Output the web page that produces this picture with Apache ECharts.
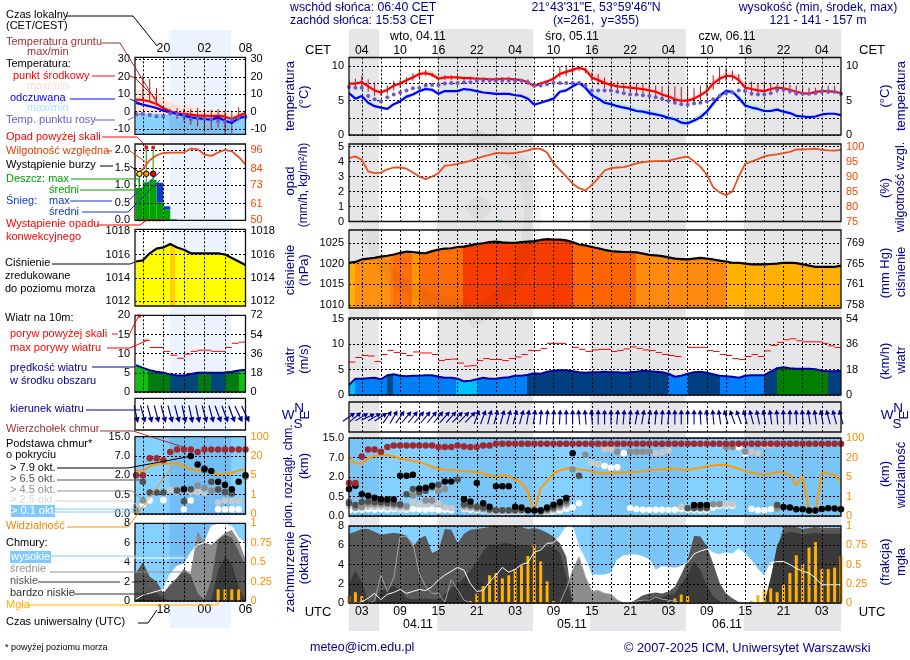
<!DOCTYPE html>
<html>
<head>
<meta charset="utf-8">
<title>meteogram</title>
<script src="https://cdn.jsdelivr.net/npm/echarts@6/dist/echarts.min.js"></script>
<style>
html,body{margin:0;padding:0;background:#fff}
#chart{width:910px;height:660px}
</style>
</head>
<body>
<div id="chart"></div>
<script>
// hours counted from 00 UTC on 04.11
var mainHours = [];
for (var i = 1; i <= 78; i++) mainHours.push(i);
var leftHours = [14,15,16,17,18,19,20,21,22,23,24,25,26,27,28,29,30];

var mainUtcTicks = [3,9,15,21,27,33,39,45,51,57,63,69,75];
var mainGridTicks = [3,6,9,12,15,18,21,24,27,30,33,36,39,42,45,48,51,54,57,60,63,66,69,72,75];
var leftUtcTicks = [18,24,30];
var leftGridTicks = [15,18,21,24,27];
var nightMain = [[1,5.7],[14.8,29.8],[38.7,53.7],[62.8,78]];
var nightLeft = [[18.9,27.9]];

// non linear height / visibility scale of the cloud base panel
var heightTicks = [0,0.5,2,7,15];
var visTicks = [0,1,5,20,100];
var mmHgTicks = [758,761,765,769];
var kmhTicksLeft = [0,18,36,54,72];
var kmhTicksMain = [0,18,36,54];

// main panel, temperature
var tempMid = [7.5,7.5,7.7,7.1,6.5,6.2,6.6,7.2,7.5,8,8.4,8.9,9,8.8,8.2,8.4,8.4,8.4,8.3,8.3,
8.2,8.2,8.1,8.1,8.2,8.2,8.1,8,7.7,7.1,7.5,7.8,8.2,8.9,9.2,9.5,9.8,9.5,8.4,8,
7.6,7.3,7.1,7,6.9,6.8,6.7,6.5,6.3,5.9,5.6,5.2,5,5,5.3,5.8,6.4,7.5,8.2,8.6,
8.6,8,6.9,6.7,6.5,6.4,6.7,6.9,6.8,6.6,6.3,6.1,6,6.3,6.4,6.4,6.3,6.1];
var tempMax = [7.7,7.7,7.9,7.3,6.7,6.4,6.8,7.4,7.7,8.2,8.7,9.2,9.4,9.3,8.7,8.7,8.7,8.6,8.5,8.5,
8.4,8.4,8.3,8.3,8.4,8.4,8.3,8.2,7.9,7.4,7.8,8.1,8.5,9.2,9.5,9.8,10,10,9.3,8.8,
8.3,7.9,7.7,7.5,7.4,7.3,7.2,7,6.8,6.4,6.1,5.7,5.4,5.4,5.7,6.1,6.8,7.9,8.7,9.1,
9.2,8.8,7.5,7.1,6.9,6.7,7,7.2,7.1,6.9,6.5,6.3,6.2,6.5,6.6,6.6,6.5,6.3];
var tempMin = [7.3,7.3,7.5,6.9,6.3,6,6.4,7,7.3,7.8,8.2,8.7,8.8,8.6,8,8.2,8.2,8.2,8.1,8.1,
8,8,7.9,7.9,8,8,7.9,7.8,7.5,6.9,7.3,7.6,8,8.7,9,9.3,9.6,9.3,8.2,7.8,
7.4,7.1,6.9,6.8,6.7,6.6,6.5,6.3,6.1,5.7,5.4,5,4.8,4.8,5.1,5.6,6.2,7.3,8,8.4,
8.4,7.8,6.7,6.5,6.3,6.2,6.5,6.7,6.6,6.4,6.1,5.9,5.8,6.1,6.2,6.2,6.1,5.9];
var feelMid = [6.1,5.3,5.7,4.7,4.2,4,3.8,4.5,4.9,5.6,5.9,6.4,6.7,6.6,6,6.4,6.4,6.4,6.7,6.6,
6.4,6.2,6.1,6,6,6,5.8,5.7,5.3,4.4,4.7,5,5.3,6.3,6.5,7.1,7.6,6.9,5.8,5.3,
4.7,4.5,4.2,4,3.8,3.5,3.4,3.2,3,2.8,2.5,2.3,1.8,1.7,2.1,2.6,3.4,4.6,5.7,6.4,
6.3,5.4,4.3,4,3.8,3.5,3.5,3.7,3.4,3.2,2.8,2.7,2.6,2.7,3,3.1,3.1,2.9];
var feelMax = [6.3,5.6,5.9,5,4.4,4.2,4,4.7,5.2,5.9,6.2,6.7,7,6.9,6.3,6.6,6.7,6.7,6.9,6.8,
6.6,6.4,6.3,6.2,6.2,6.2,6,5.9,5.5,4.6,4.9,5.3,5.6,6.6,6.8,7.4,7.9,7.4,6.4,5.9,
5.2,5,4.7,4.5,4.3,4,3.9,3.7,3.5,3.2,2.9,2.7,2.3,2.2,2.6,3.1,3.8,5,6.1,6.7,
6.7,6,4.9,4.5,4.3,4,3.9,4.1,3.8,3.5,3.1,2.9,2.8,2.9,3.2,3.3,3.3,3.1];
var feelMin = [5.9,5.1,5.4,4.5,4,3.8,3.6,4.2,4.7,5.3,5.6,6.1,6.4,6.3,5.8,6.1,6.2,6.2,6.4,6.3,
6.2,6,5.9,5.8,5.8,5.8,5.6,5.5,5.1,4.2,4.5,4.8,5,6,6.3,6.8,7.3,6.5,5.4,4.8,
4.3,4.1,3.8,3.6,3.4,3.1,3,2.8,2.6,2.4,2.1,1.9,1.4,1.3,1.7,2.2,3,4.2,5.3,6,
6,5,3.9,3.6,3.4,3.2,3.1,3.4,3.1,2.9,2.5,2.5,2.4,2.5,2.8,2.9,2.9,2.7];
var dewPoint = [7,6.9,6.9,5.7,5.2,4.9,5.5,5.9,6.2,6.5,6.8,6.9,7.2,7.3,7.3,7.5,7.6,7.6,7.7,7.7,
7.9,7.9,7.9,7.9,7.9,7.9,7.9,7.9,7.7,7.2,7.2,7.4,7.6,7.6,7.6,7.6,7.6,7.2,6.5,6.5,
6.5,6.5,6.3,6.1,5.9,5.9,5.8,5.7,5.5,5.3,5,4.7,4.5,4.4,4.6,4.7,4.9,5.2,5.7,6.1,
6.2,6.5,6.4,6,5.9,5.9,6.1,6.6,6.6,6.4,6.1,6,6,6.1,6.3,6.3,6.3,6];
var groundMax = [7.9,8.2,8.6,8.1,7.7,6.7,7.2,7.9,8,8.4,9,9.6,9.5,9,8.5,8.7,8.7,8.6,8.5,8.5,
8.4,8.4,8.3,8.4,8.4,8.5,8.3,8.2,8.1,7.3,7.7,8,8.6,10,10.2,10.3,10.1,9.8,9.1,8.9,
8.4,7.9,7.8,7.6,7.6,7.5,7.5,7.4,7.2,7.1,7,7.1,7,7,6.9,7.2,7.6,8.7,10,9.8,
9.4,8.9,7.5,7.8,7.5,7.5,7.6,7.4,7.4,7.3,7.2,6.9,6.9,6.9,7,7.2,7.2,6.9];
var groundMin = [7.2,7.1,7,6.3,5.7,5.7,6,6.5,6.9,7.4,7.9,8.3,8.6,8.4,7.9,8,8,8,8,8,
7.9,7.9,7.8,7.9,7.9,7.9,7.8,7.7,7.3,6.8,7.1,7.4,7.8,8.4,8.6,8.8,9.3,9,7.9,7.3,
6.8,6.4,6.3,6.3,6.2,6.1,6,5.8,5.5,5.1,4.8,4.5,4.3,4,4.5,5,5.6,6.6,7.5,7.8,
7.9,7.4,6.1,5.8,5.8,5.8,5.9,6.1,6.2,6,5.7,5.8,5.8,5.9,6,6,6,5.8];

// main panel, humidity and rain
var humidity = [96.1,96.7,95.6,91.7,91.1,91.3,92.4,93,93,92.6,91.3,90,89.1,90,91.1,93.6,93.8,94.2,94.7,95.2,
96,96.7,97.2,97.8,97.8,97.7,97.9,98.2,98.7,99.4,99.2,98,94.4,92.2,90,87.6,86.1,85.3,87.2,89.4,
92,92.8,93,93.1,93.7,94.4,94.8,95,95.1,95.2,95.3,95.8,96.3,96.7,95,93.3,90.6,86.4,84.7,83.8,
85,90,94.2,95,95.8,96.7,97.1,97.4,97.8,98.2,99,99,99.1,99.3,98.9,98.7,98.6,98.9];
var rainHours = [23,24];
var rainMain = [0.03,0.06];

// main panel, pressure
var pressure = [1020.2,1020.4,1021,1021.2,1021.4,1021.7,1021.9,1022.2,1022.6,1022.9,1022.8,1022.6,1022.5,1023,1023.4,1023.6,1023.7,1024,1024.1,1024.4,
1024.7,1024.9,1025.2,1025.3,1025.1,1025,1025,1025.2,1025.3,1025.4,1025.7,1025.9,1025.8,1025.8,1025.6,1025.2,1024.6,1024.4,1024,1023.7,
1023.3,1023,1022.9,1022.8,1022.8,1022.7,1022.4,1022.1,1022,1021.8,1021.5,1021.2,1021.1,1021,1021.2,1021.4,1021.2,1021,1020.7,1020.5,
1020.2,1020.2,1020,1019.8,1019.8,1019.8,1019.9,1020,1020.2,1020.2,1020.1,1019.8,1019.5,1019.2,1019.2,1019.2,1019.2,1019.5];

// main panel, wind
var windMean = [2,3.2,3.2,3.3,3.4,3.1,3.9,4.1,3.8,3.7,3.8,3.8,3.9,3.9,3.6,3.4,3.4,3.2,2.7,2.8,
3.1,3.4,3.2,3.2,3.4,3.5,3.8,3.8,4,4.3,4.2,4.6,4.8,4.9,4.9,4.7,4.5,4.4,4.5,4.5,
4.6,4.5,4.5,4.4,4.5,4.6,4.8,4.7,4.6,4.5,4.2,3.6,3.8,4.2,4.5,4.6,4.4,4.1,3.8,3.7,
3.6,3.4,3.8,3.9,3.9,3.9,4.6,5.3,5.5,5.3,5.2,5.2,5.2,5.1,4.8,4.7,4.7,4.8];
var windGust = [6.5,7.4,7.8,7.7,6.6,8,8.8,8.4,8.2,7.8,8.5,8.3,8.3,8,6.8,7,7.1,6.3,5.7,5.8,
6.8,7.2,7,7,6.8,7.2,7.5,8,8.8,8.8,9.2,10.2,10.2,10.2,null,9.4,9,8.6,8.9,9,
9,8.6,8.8,9.1,9.5,9.2,8.9,8.8,8.4,8,7.8,7.6,null,9.4,9.4,9.4,8.8,8.6,8,7.8,
7.2,7,7.6,8,7.6,8.7,9.8,10.4,10.9,11.1,10.7,10.5,10.5,10.5,10.2,9.7,9.4,null];
var windDir = [55,50,60,65,60,58,35,30,35,40,40,40,40,40,40,42,42,45,45,45,
20,20,15,15,15,15,15,15,10,8,5,5,5,3,0,0,-5,-5,-5,0,
0,0,5,5,5,10,10,8,5,5,5,0,0,0,0,-3,-5,-5,-8,-15,
-20,-20,-15,-15,-12,-10,-8,-5,-3,0,-2,-5,-8,-8,-10,-15,-15,-15];

// main panel, cloud tops and cloud bases (km) per cover class
var cloudTop = [1.53,1.53,7.4,10.3,10.3,9.4,11.3,11.9,11.9,11.9,11.9,11.9,11.9,11.9,11.3,11.3,11.3,11.9,11.5,11.3,
11.3,11.9,11.9,12.6,12.6,12.6,12.6,12.6,12.6,12.6,12.6,12.6,12.6,12.6,12.6,12.6,12.6,12.6,12.6,12.6,
12.6,12.6,12.6,12.6,12.6,12.6,12.6,12.6,12.6,12.6,12.6,12.6,12.6,12.6,12.6,12.6,12.6,12.6,12.6,12.6,
12.6,12.6,12.6,12.6,12.6,12.6,12.6,12.6,12.6,12.6,12.6,12.6,12.6,12.6,12.6,12.6,12.6,12.6];
var baseAbove79 = [1.07,1.33,.68,.55,.47,.43,.42,.43,2.35,2.35,2.6,1.12,1.17,1.33,null,1.66,1.66,null,.43,.37,
1.53,.33,.24,1.28,1.28,1.28,.24,.22,.15,.14,.15,.22,.29,.36,.46,8.7,null,null,null,null,
null,null,null,null,null,null,null,null,null,null,null,null,null,null,.28,.28,.28,null,null,null,
null,null,null,null,null,null,null,null,.23,.22,.17,.17,.14,.14,.18,.2,.19,.17];
var baseAbove65 = [.33,.28,.36,.37,.36,.35,.34,.33,.3,.68,1.07,.85,.95,1.22,1.4,null,null,1.8,.3,.28,
.24,.22,.17,.15,.15,.15,.15,.15,null,null,.13,.18,.22,.3,.4,null,2.3,null,null,null,
null,null,null,null,null,null,null,null,null,null,null,null,null,.2,.2,.2,.2,null,null,null,
null,null,null,null,null,null,null,.28,null,null,null,null,null,null,null,null,null,null];
var baseAbove45 = [.37,.22,.24,.31,.3,.3,.3,.28,.26,.25,.6,.7,.4,.4,.9,1.07,null,null,.26,.24,
.2,.18,.15,.14,.14,.14,.14,null,null,null,.11,.14,.18,.25,.33,3.9,null,8.1,null,null,
null,null,9.4,null,9.4,9.4,9.4,9.4,null,null,null,null,null,null,null,null,null,.3,.3,11.3,
11.3,null,9.4,null,null,null,null,.2,null,null,null,null,null,null,null,null,null,null];
var baseAbove25 = [.26,.2,.2,.24,.24,.24,.22,.22,.2,.2,.35,.3,.3,.33,.33,.22,.2,null,.2,.2,
.17,.15,.13,.12,.12,.12,.12,.12,null,null,.1,.12,.14,.2,.27,null,null,null,5.7,5.3,
10.5,10.5,null,null,null,null,null,null,8.7,9.2,10,null,.24,null,null,null,null,null,null,.3,
.3,null,null,9.4,8.7,11.9,11.9,.2,null,null,null,null,null,null,null,null,null,null];
var baseAbove01 = [.14,.16,.16,.17,.16,.17,.16,.17,.17,.16,.17,.17,.16,.17,.15,.16,.15,null,.17,.16,
.15,.14,.12,.11,.11,.11,.11,.11,null,null,.1,.1,.11,.14,.18,.22,.33,null,5.7,5.3,
4.8,4.4,4.5,8.7,.2,.17,.16,.16,.16,.16,.16,.16,.17,.16,.16,.15,.15,.22,.26,.27,
.26,11.3,8.5,.18,.15,.15,.17,null,null,null,null,null,null,null,null,null,null,null];
var visibility = [20,15.3,15.3,19.2,26.6,30.5,29.2,25.2,19.2,18.2,17.4,16.8,14.7,12.9,11.3,10.5,10.3,9.7,9.5,9.2,
8.7,7.6,6.1,5.3,6.3,5.8,4.4,3.8,2,.17,2.7,4.1,7.6,10,11.3,12.6,10.8,10.3,9.2,8.2,
7.6,7.6,8.4,8.4,8.7,8.9,9.5,10.3,10.5,11,11.6,11.3,10.8,10.3,11.3,12.1,13.2,13.9,14.2,14.2,
12.9,11.3,9.5,8.2,7.4,7.1,7.4,8.9,8.2,6.8,3.3,5.5,.28,.17,8.2,7.6,6.8,4];

// main panel, cloud cover (octas) and fog fraction
var cloudHigh = [0,0,.1,.5,1,.35,.9,1.1,1.4,1,1.2,1.4,1.3,1.7,2.4,2.9,3.3,3.7,3.4,2,
1.2,1.3,2.2,2.9,3.7,3.2,3.5,4,4.2,5.3,5.5,6.2,6.25,6.9,7.9,7.9,5.8,4.5,2.9,2.9,
2.9,3.1,4.5,4.9,5,5,4.8,4.5,3.4,3.8,3.7,3.6,3.8,4.2,5.1,5.4,5.6,5.2,5,5.2,
5.1,5.6,5.1,4.4,3.5,2.8,4.2,4.3,4.3,4,3.6,3.3,3.1,2.6,1.9,1.9,1.9,1.9];
var cloudMid = [0,0,0,0,.2,2.9,1.2,2.6,6.9,6.9,6.2,3.1,1.7,1,1,.1,2.4,1.4,.3,0,
0,0,0,0,0,0,0,0,0,0,0,0,0,0,1.5,3.4,4.8,2.7,1.2,1.3,
1,.9,.3,0,0,.2,.3,.3,.6,.4,.3,.2,0,0,0,0,0,0,0,0,
0,0,0,0,0,0,0,0,0,0,0,0,0,0,0,0,0,0];
var cloudLow = [7.2,7.4,7.7,7.7,7.4,7.1,7.2,7.3,7.2,7,5.8,6.7,7,5.2,5.5,7.7,7.6,6.2,7.2,7.6,
7.7,7.8,7.9,8,7.9,7.9,7.9,7.9,7.7,7.8,7.6,7.3,6.9,6.2,4.8,0,0,0,0,0,
0,0,0,0,0,.4,.8,1,1.1,1,1.2,1.7,3,4.5,7,6.9,5.9,4.1,2.1,1,
.5,.1,0,0,0,0,2.7,5.6,7.9,8,7.9,7.7,7.8,7.9,7.8,7.8,7.8,7.8];
var cloudVeryLow = [2,3.4,2.2,.1,.3,1.2,1.5,1.8,1.4,.5,.4,.4,.5,.4,.4,1,1.5,2,2.6,3.4,
4.2,5.4,6.1,6,6.2,6.2,6,6,6,5.7,5.6,5.9,5.8,5.2,2.7,0,0,0,0,0,
0,0,0,0,0,.3,.4,.5,.6,.6,.8,1,2,2.9,4.3,3.4,1.8,.7,.2,0,
0,0,0,0,0,0,2.4,6,7.2,7.4,7.3,7.1,7.2,7.3,7.2,7.2,7.2,7.2];
var fogHours = [1,2,3,20,21,22,23,24,25,26,27,28,29,30,31,32,33,51,52,53,54,64,65,66,67,68,69,70,71,72,73,74,75,76,77,78];
var fogFraction = [.09,.14,.09,.025,.12,.22,.36,.39,.32,.36,.44,.49,.61,.76,.54,.28,.025,.02,.06,.11,.09,.03,.1,.18,.19,.14,.24,.39,.62,.51,.72,.79,.44,.44,.46,.61];

// left panel, one day zoomed in
var leftTempMid = [6.9,6.7,5.8,4.4,2.1,.2,-1,-1.3,-1.7,-2.3,-2.3,-2.5,-2.3,-2.9,-4.2,-2.3,-.8];
var leftTempMax = [13,12,11,10,7.5,5,4,3.5,3,2,1.5,1,1,.2,-2.3,-.4,1];
var leftTempMin = [-1,-1,-1,-1.5,-1.5,-1.5,-2,-2.3,-2.5,-3,-3,-3.5,-3.5,-4,-5,-3.5,-2];
var leftFeelMid = [5,4,3.1,2.1,.6,-.4,-1.3,-2.3,-3.3,-3.7,-4.2,-4.6,-3.3,-5.2,-6.5,-3.7,-2.7];
var leftFeelMax = [-1,-1,-1,-1,-1.3,-1.5,-1.5,-2,-2,-2.5,-2.7,-3,-2.8,-3.5,-5,-2.8,-1.5];
var leftFeelMin = [-13,-13,-13,-13,-13,-13,-13,-13,-13,-13,-13,-13,-13,-13,-13,-13,-13];
var leftDew = [-1.3,-1.3,-1.9,-2.7,-2.7,-1,-1.3,-2.3,-4.2,-3.8,-4.2,-4.6,-5.2,-5.8,-4.8,-3.7,-3];
var leftGroundMax = [null,20.8,18.8,13.6,null,1.5,2.1,1.5,1.5,2.1,1.5,1,1.5,0,.6,2.5,1];
var leftGroundMin = [null,6,5.8,3.5,null,-2.3,-4.2,-5.2,-7.5,-8.6,-10,-10.5,-9,-12.8,-12.5,-5.2,-1];
var leftHumidity = [79.4,83.8,89.4,92.7,94.2,94.5,94.5,94.5,97.1,96.7,93.1,92.3,94.5,96.2,95.3,91.6,86.7];
var leftRain = [.92,1.09,1.16,.5,.3,.03];
var leftSnowTop = [null,null,null,1.07,.4,null];
var leftRainHours = [14,15,16,17,18,19];
var stormHours = [14.5,15.5,16.5];
var stormLevel = [1.33,1.33,1.33];
var overflowHours = [15.5,16.5];
var overflowLevel = [2.08,2.08];
var convectiveHours = [14.5,15,15.5,16,16.5,17,17.5,18];
var convectiveLevel = [0,0,0,0,0,0,0,0];
var leftPressure = [1015.4,1015.5,1016.1,1016.5,1016.6,1016.9,1016.6,1016.4,1016.1,1016.1,1016.1,1016.1,1016.1,1016,1015.7,1015.4,1015.1];
var leftWindMean = [7,6.3,5.7,5.3,5,4.6,4.3,4.3,4.7,5,5,5,5,5.1,5.3,5.6,5.8];
var leftGust = [null,13.5,11.6,11.6,10.6,9.6,8.8,9.9,10.6,10.9,10.9,10.6,10.6,11.6,12.7,13,null];
var gustOverHours = [14.5];
var gustOverLevel = [19.8];
var leftWindDir = [168,165,165,165,165,165,165,168,168,168,165,165,160,160,160,155,155];
var leftTop = [2,2,6.4,6.4,5.9,8.7,9.7,9.7,9.7,8.7,9.7,9.7,9.7,9.7,9.7,9.7,9.7];
var leftAbove79 = [null,null,null,null,null,null,null,.93,7,4.8,3.7,3.1,1.5,1.25,.92,1.5,2];
var leftAbove65 = [null,1.5,.67,.67,.67,null,.8,.33,.92,null,3.4,1.5,.9,.7,.6,null,null];
var leftAbove45 = [.1,.35,null,null,null,null,.87,null,null,1.2,1,.8,.9,.65,.6,null,1.9];
var leftAbove25 = [.18,null,null,null,null,.87,.7,null,.7,.7,.67,null,.3,.35,.33,.35,null];
var leftAbove01 = [null,.25,.35,null,.36,null,null,.12,.35,.7,null,null,.12,.12,.12,.12,null];
var leftVisibility = [8.9,8.4,12.1,13.7,14.2,14.2,14.2,12.1,9.5,8.4,8.4,7.6,5.8,6,6.8,8.9,8.9];
var leftCloudHigh = [.2,.6,.8,1,1.2,2.8,3.6,3.8,5,5.8,6,7.7,7.9,7.9,7.7,6.5,6];
var leftCloudMid = [0,0,0,0,0,0,0,.3,3,7.2,6,5.8,6.4,7,7.3,6.2,4.3];
var leftCloudLow = [2.9,4,2.5,2,.8,1.7,2.4,3.3,2.7,.8,.1,2.2,6.3,6.8,6.5,5.1,3.6];
var leftCloudVeryLow = [.1,.65,1,.8,.3,0,0,0,0,0,0,0,3.2,4.6,3.8,1.5,0];
var leftFogHours = [26,27,28,29];
var leftFog = [.15,.15,.15,.15];

var FONT = '"Liberation Sans", Arial, sans-serif';
var NAVY = '#000090';
var RHCOL = '#ff4500';
var VISCOL = '#ff8c00';

var grids = [], xAxes = [], yAxes = [], series = [];

function pad(n){ return (n < 10 ? '0' : '') + n; }

function heightPos(km, ticks){
    if (km == null) return null;
    for (var i = 0; i < ticks.length - 1; i++) {
        if (km <= ticks[i+1]) return i + (km - ticks[i]) / (ticks[i+1] - ticks[i]);
    }
    return ticks.length - 1;
}
function zip(hrs, vals){
    var out = [];
    hrs.forEach(function(h, i){ if (vals[i] != null) out.push([h, vals[i]]); });
    return out;
}
function yAxisOpt(gi, pos, c, color){
    return {
        type:'value', gridIndex:gi, position:pos, min:c.min, max:c.max, z:5,
        axisLine:{show:false},
        axisTick:{show:false, customValues:c.grid || c.ticks},
        axisLabel:{show:true, customValues:c.ticks, formatter:c.fmt, color:color || '#000',
            fontFamily:FONT, fontSize:11, margin:5},
        splitLine:{show:pos === 'left' && c.lines !== false, lineStyle:{color:'#000', type:[2,2], width:1}}
    };
}
function addPanel(c){
    var gi = grids.length;
    grids.push({left:c.left, width:c.width, top:c.top, height:c.height, show:true,
        borderWidth:0, backgroundColor:c.bg || 'transparent'});
    xAxes.push({
        type:'value', gridIndex:gi, min:c.xMin, max:c.xMax, position:c.xPos || 'bottom', z:5,
        axisLine:{show:false},
        axisTick:{show:false, customValues:c.xGrid},
        axisLabel:{show:!!c.xLabels, customValues:c.xLabels || [], formatter:c.xFmt, color:'#000',
            fontFamily:FONT, fontSize:12.3, margin:c.xMargin == null ? 3 : c.xMargin},
        splitLine:{show:true, lineStyle:{color:'#000', type:[2,2], width:1}}
    });
    var yi = yAxes.length;
    yAxes.push(yAxisOpt(gi, 'left', c.y));
    yAxes.push(yAxisOpt(gi, 'right', c.r, c.r.color));
    var p = {x:gi, y:yi, r:yi + 1, c:c};
    // frame on top of the fills
    series.push({type:'custom', xAxisIndex:gi, yAxisIndex:yi, z:7, silent:true, data:[[c.xMin, c.y.min]],
        renderItem:function(params, api){
            var a = api.coord([c.xMin, c.y.max]), b = api.coord([c.xMax, c.y.min]);
            return {type:'rect', shape:{x:a[0], y:a[1], width:b[0]-a[0], height:b[1]-a[1]},
                style:{fill:'none', stroke:'#111', lineWidth:1.3}};
        }});
    return p;
}
function lineS(p, hrs, vals, color, width, right){
    series.push({type:'line', xAxisIndex:p.x, yAxisIndex:right ? p.r : p.y, data:zip(hrs, vals),
        symbol:'none', silent:true, z:6, lineStyle:{color:color, width:width}});
}
function areaS(p, hrs, vals, fill, z){
    series.push({type:'line', xAxisIndex:p.x, yAxisIndex:p.y, data:zip(hrs, vals), symbol:'none', silent:true,
        z:z || 2, lineStyle:{width:0}, areaStyle:{color:fill, opacity:1, origin:'start'}});
}
function stepGradient(hrs, bands){
    var from = hrs[0], to = hrs[hrs.length-1], stops = [], prev = 0;
    bands.forEach(function(b){
        var end = Math.min(1, (b[0] - from) / (to - from));
        stops.push({offset:prev, color:b[1]}, {offset:end, color:b[1]});
        prev = end;
    });
    return new echarts.graphic.LinearGradient(0, 0, 1, 0, stops);
}
function bandS(p, hrs, lo, hi, fill){
    series.push({type:'custom', xAxisIndex:p.x, yAxisIndex:p.y, z:2, silent:true, data:[[hrs[0], lo[0]]], clip:true,
        renderItem:function(params, api){
            var pts = [];
            hrs.forEach(function(h, i){ pts.push(api.coord([h, hi[i]])); });
            for (var i = hrs.length - 1; i >= 0; i--) pts.push(api.coord([hrs[i], lo[i]]));
            return {type:'polygon', shape:{points:pts}, style:{fill:fill}};
        }});
}
function ticksS(p, hrs, lo, hi, color){
    var d = [];
    hrs.forEach(function(h, i){ if (lo[i] != null) d.push([h, lo[i], hi[i]]); });
    series.push({type:'custom', xAxisIndex:p.x, yAxisIndex:p.y, z:4, silent:true, data:d, clip:true,
        renderItem:function(params, api){
            var a = api.coord([api.value(0), api.value(1)]), b = api.coord([api.value(0), api.value(2)]);
            return {type:'line', shape:{x1:a[0], y1:a[1], x2:b[0], y2:b[1]}, style:{stroke:color, lineWidth:1}};
        }});
}
function gustS(p, hrs, vals, color){
    series.push({type:'custom', xAxisIndex:p.x, yAxisIndex:p.y, z:6, silent:true, data:zip(hrs, vals), clip:true,
        renderItem:function(params, api){
            var a = api.coord([api.value(0), api.value(1)]), b = api.coord([api.value(0)+1, api.value(1)]);
            return {type:'line', shape:{x1:a[0], y1:a[1], x2:b[0], y2:b[1]}, style:{stroke:color, lineWidth:1}};
        }});
}
function rectS(p, rows, fill, z){
    // rows: [x0, x1, y0, y1]
    series.push({type:'custom', xAxisIndex:p.x, yAxisIndex:p.y, z:z, silent:true, data:rows, clip:true,
        renderItem:function(params, api){
            var a = api.coord([api.value(0), api.value(3)]), b = api.coord([api.value(1), api.value(2)]);
            return {type:'rect', shape:{x:a[0], y:a[1], width:b[0]-a[0], height:b[1]-a[1]}, style:{fill:fill}};
        }});
}
function dotS(p, hrs, vals, color, size, right, symbol, border){
    series.push({type:'scatter', xAxisIndex:p.x, yAxisIndex:right ? p.r : p.y, data:zip(hrs, vals), z:6, silent:true,
        symbol:symbol || 'circle', symbolSize:size, clip:false,
        itemStyle:{color:color, opacity:1, borderColor:border || color, borderWidth:border ? 1 : 0}});
}
function fogS(p, hrs, vals){
    series.push({type:'bar', xAxisIndex:p.x, yAxisIndex:p.r, data:zip(hrs, vals), barWidth:3, z:3, silent:true,
        itemStyle:{color:'#ffb000'}});
}
var ARROW = 'path://M5 0 L10 7 L6 7 L6 22 L4 22 L4 7 L0 7 Z';
function arrowS(p, hrs, dirs, size){
    series.push({type:'scatter', xAxisIndex:p.x, yAxisIndex:p.y, z:6, silent:true, clip:false,
        data:hrs.map(function(h, i){ return {value:[h, 0.5], symbolRotate:-dirs[i]}; }),
        symbol:ARROW, symbolSize:size, itemStyle:{color:NAVY, opacity:1}});
}
function numFmt(v){ return String(v); }
function listFmt(from, to){ return function(v){ var i = from.indexOf(v); return i < 0 ? '' : String(to[i]); }; }
function fixed1(v){ return v.toFixed(1); }

// night bands behind the main panels, day band behind the left column
function bandGrid(left, width, top, height, xMin, xMax, rows, fill){
    var gi = grids.length;
    grids.push({left:left, width:width, top:top, height:height, show:false});
    xAxes.push({type:'value', gridIndex:gi, min:xMin, max:xMax, show:false});
    var yi = yAxes.length;
    yAxes.push({type:'value', gridIndex:gi, min:0, max:1, show:false});
    series.push({type:'custom', xAxisIndex:gi, yAxisIndex:yi, z:-1, silent:true,
        data:rows.map(function(r){ return [r[0], r[1]]; }),
        renderItem:function(params, api){
            var a = api.coord([api.value(0), 1]), b = api.coord([api.value(1), 0]);
            return {type:'rect', shape:{x:a[0], y:a[1], width:b[0]-a[0], height:b[1]-a[1]}, style:{fill:fill}};
        }});
}
var ML = 349, MW = 492, LL = 135, LW = 110.5;
bandGrid(ML, MW, 29, 602, 1, 78, nightMain, '#e6e6e8');
bandGrid(LL, LW, 30, 598, 13.85, 30, nightLeft, '#edf3fe');

function mainPanel(top, height, y, r, extra){
    var c = {left:ML, width:MW, top:top, height:height, xMin:1, xMax:78, xGrid:mainGridTicks, y:y, r:r};
    for (var k in extra) c[k] = extra[k];
    return addPanel(c);
}
function leftPanel(top, height, y, r, extra){
    var c = {left:LL, width:LW, top:top, height:height, xMin:13.85, xMax:30, xGrid:leftGridTicks, y:y, r:r};
    for (var k in extra) c[k] = extra[k];
    return addPanel(c);
}

// ---- main column ----
var pTemp = mainPanel(57.5, 77.5,
    {min:0, max:11.3, ticks:[0,5,10], grid:[0,2.5,5,7.5,10], fmt:numFmt},
    {min:0, max:11.3, ticks:[0,5,10], fmt:numFmt},
    {xPos:'top', xMargin:1, xLabels:mainUtcTicks, xFmt:function(h){ return pad((h + 1) % 24); }});
bandS(pTemp, mainHours, tempMin, tempMax, '#ffd8d8');
bandS(pTemp, mainHours, feelMin, feelMax, '#bfe6ff');
ticksS(pTemp, mainHours, groundMin, groundMax, '#a02020');
dotS(pTemp, mainHours, dewPoint, '#6a5acd', 4);
lineS(pTemp, mainHours, tempMid, '#ff0000', 2.2);
lineS(pTemp, mainHours, feelMid, '#0000ff', 2.2);

var pRain = mainPanel(144, 77.5,
    {min:0, max:5.17, ticks:[0,1,2,3,4,5], fmt:numFmt},
    {min:75, max:100.83, ticks:[75,80,85,90,95,100], fmt:numFmt, color:RHCOL});
rectS(pRain, rainHours.map(function(h, i){ return [h, h+1, 0, rainMain[i]]; }), '#00a000', 3);
lineS(pRain, mainHours, humidity, '#e8501e', 1.8, true);

var pPress = mainPanel(230, 78,
    {min:1009.3, max:1028.1, ticks:[1010,1015,1020,1025], fmt:numFmt},
    {min:1009.3, max:1028.1, ticks:[1010,1015,1020,1025], fmt:listFmt([1010,1015,1020,1025], mmHgTicks)});
areaS(pPress, mainHours, pressure, stepGradient(mainHours, [[1.9,'#ffb000'],[7.4,'#ff9010'],[7.9,'#ff8010'],[10.8,'#ff6e08'],[12,'#ff9500'],[18.9,'#ff6c08'],[36.1,'#f83c00'],[45.9,'#ff6400'],[60,'#ff8a10'],[78,'#ffb000']]));
lineS(pPress, mainHours, pressure, '#000', 2.2);

var pWind = mainPanel(318, 77,
    {min:0, max:15.2, ticks:[0,5,10,15], fmt:numFmt},
    {min:0, max:54.7, ticks:kmhTicksMain, fmt:numFmt});
areaS(pWind, mainHours, windMean, stepGradient(mainHours, [[1.9,'#00c0ff'],[6.9,'#0080f4'],[7.9,'#004a8c'],[17.8,'#0080f4'],[21,'#00c0ff'],[28.9,'#0080f4'],[51,'#004080'],[54,'#0080ff'],[59,'#004080'],[66,'#0080ff'],[68,'#004080'],[76,'#008000'],[78,'#004080']]));
lineS(pWind, mainHours, windMean, '#0000a0', 2);
gustS(pWind, mainHours, windGust, '#ff0000');

var pDir = mainPanel(402, 30,
    {min:0, max:1, ticks:[], lines:false, fmt:numFmt},
    {min:0, max:1, ticks:[], fmt:numFmt});
arrowS(pDir, mainHours, windDir, [5.5,15]);

var BLUEBG = 'rgba(31,169,255,0.55)';
var pBase = mainPanel(438, 78,
    {min:0, max:4, ticks:[0,1,2,3,4], fmt:function(v){ return heightTicks[v].toFixed(1); }},
    {min:0, max:4, ticks:[0,1,2,3,4], fmt:function(v){ return String(visTicks[v]); }, color:VISCOL},
    {bg:BLUEBG});
function posOf(vals){ return vals.map(function(v){ return heightPos(v, heightTicks); }); }
dotS(pBase, mainHours, posOf(baseAbove01), '#ffffff', 6.5);
dotS(pBase, mainHours, posOf(baseAbove25), '#c8c8c8', 6.5);
dotS(pBase, mainHours, posOf(baseAbove45), '#8c8c8c', 6.5);
dotS(pBase, mainHours, posOf(baseAbove65), '#505050', 6.5);
dotS(pBase, mainHours, posOf(baseAbove79), '#000000', 6.5);
dotS(pBase, mainHours, posOf(cloudTop), '#a02830', 6.5);
lineS(pBase, mainHours, visibility.map(function(v){ return heightPos(v, visTicks); }), '#ff9900', 2, true);

var pCloud = mainPanel(526, 77,
    {min:0, max:8, ticks:[0,2,4,6,8], fmt:numFmt},
    {min:0, max:1, ticks:[0,.25,.5,.75,1], fmt:numFmt, color:VISCOL},
    {bg:BLUEBG, xLabels:mainUtcTicks, xFmt:function(h){ return pad(h % 24); }});
areaS(pCloud, mainHours, cloudHigh, '#ffffff', 2);
areaS(pCloud, mainHours, cloudMid, '#8c8c8c', 2);
areaS(pCloud, mainHours, cloudLow, '#585858', 2);
areaS(pCloud, mainHours, cloudVeryLow, '#3a3a3a', 2);
fogS(pCloud, fogHours, fogFraction);
lineS(pCloud, mainHours, cloudMid, '#a0a0a0', 1);
lineS(pCloud, mainHours, cloudHigh, '#ffffff', 1);

// ---- left column ----
var lTemp = leftPanel(57.3, 77,
    {min:-13, max:31.2, ticks:[-10,0,10,20,30], fmt:numFmt},
    {min:-13, max:31.2, ticks:[-10,0,10,20,30], fmt:numFmt},
    {xPos:'top', xMargin:3, xLabels:leftUtcTicks, xFmt:function(h){ return pad((h + 2) % 24); }});
bandS(lTemp, leftHours, leftTempMin, leftTempMax, '#ffe2d6');
bandS(lTemp, leftHours, leftFeelMin, leftFeelMax, '#88d2ff');
rectS(lTemp, [[nightLeft[0][0], nightLeft[0][1], -13, -3]], 'rgba(0,40,120,0.1)', 3);
ticksS(lTemp, leftHours, leftGroundMin, leftGroundMax, '#a02020');
dotS(lTemp, leftHours, leftDew, '#6a5acd', 3.5, false, 'rect');
lineS(lTemp, leftHours, leftTempMid, '#ff0000', 2.2);
lineS(lTemp, leftHours, leftFeelMid, '#0000ff', 2.2);

var lRain = leftPanel(144, 76.3,
    {min:0, max:2.18, ticks:[0,.5,1,1.5,2], fmt:fixed1},
    {min:50, max:100.1, ticks:[50,61,73,84,96], fmt:numFmt, color:RHCOL});
rectS(lRain, leftRainHours.map(function(h, i){ return leftSnowTop[i] == null ? null : [h, h+1, leftRain[i], leftSnowTop[i]]; }).filter(Boolean), '#1038c8', 3);
rectS(lRain, leftRainHours.map(function(h, i){ return [h, h+1, 0, leftRain[i]]; }), '#00a400', 3);
ticksS(lRain, overflowHours, leftRain.slice(1,3), overflowLevel, '#00a000');
ticksS(lRain, [14.5], [.9], [1.3], '#00a000');
dotS(lRain, overflowHours, overflowLevel, '#ff0000', 3.5, false, 'rect');
dotS(lRain, [stormHours[0]], [stormLevel[0]], '#ffe000', 5.5, false, 'circle', '#000');
dotS(lRain, [stormHours[1]], [stormLevel[1]], '#ff9000', 5.5, false, 'circle', '#000');
dotS(lRain, [stormHours[2]], [stormLevel[2]], '#ff0000', 5.5, false, 'circle', '#000');
dotS(lRain, convectiveHours, convectiveLevel, '#ff0000', 2.5);
lineS(lRain, leftHours, leftHumidity, '#e8501e', 1.8, true);

var lPress = leftPanel(229.3, 76.7,
    {min:1011.6, max:1018.15, ticks:[1012,1014,1016,1018], fmt:numFmt},
    {min:1011.6, max:1018.15, ticks:[1012,1014,1016,1018], fmt:numFmt});
areaS(lPress, leftHours, leftPressure, stepGradient(leftHours, [[18.9,'#ffff00'],[19.7,'#ffd000'],[30,'#ffff00']]));
lineS(lPress, leftHours, leftPressure, '#000', 2.2);

var lWind = leftPanel(315.3, 76.7,
    {min:0, max:20, ticks:[0,5,10,15,20], fmt:numFmt},
    {min:0, max:72, ticks:kmhTicksLeft, fmt:numFmt});
areaS(lWind, leftHours, leftWindMean, stepGradient(leftHours, [[15.8,'#10c010'],[19,'#007c10'],[23,'#00487c'],[25,'#007c10'],[27,'#00487c'],[29,'#007c10'],[30,'#10c010']]));
lineS(lWind, leftHours, leftWindMean, '#0000a0', 2);
gustS(lWind, leftHours, leftGust, '#ff0000');
dotS(lWind, gustOverHours, gustOverLevel, '#ff0000', 3, false, 'rect');

var lDir = leftPanel(398.3, 31.7,
    {min:0, max:1, ticks:[], lines:false, fmt:numFmt},
    {min:0, max:1, ticks:[], fmt:numFmt});
arrowS(lDir, leftHours, leftWindDir, [6,18]);

var lBase = leftPanel(436.7, 77.3,
    {min:0, max:4, ticks:[0,1,2,3,4], fmt:function(v){ return heightTicks[v].toFixed(1); }},
    {min:0, max:4, ticks:[0,1,2,3,4], fmt:function(v){ return String(visTicks[v]); }, color:VISCOL},
    {bg:BLUEBG});
rectS(lBase, [[nightLeft[0][0], nightLeft[0][1], 0, 4]], 'rgba(0,40,120,0.08)', 1);
dotS(lBase, leftHours, posOf(leftAbove01), '#ffffff', 6.5);
dotS(lBase, leftHours, posOf(leftAbove25), '#c8c8c8', 6.5);
dotS(lBase, leftHours, posOf(leftAbove45), '#8c8c8c', 6.5);
dotS(lBase, leftHours, posOf(leftAbove65), '#505050', 6.5);
dotS(lBase, leftHours, posOf(leftAbove79), '#000000', 6.5);
dotS(lBase, leftHours, posOf(leftTop), '#a02830', 6.5);
lineS(lBase, leftHours, leftVisibility.map(function(v){ return heightPos(v, visTicks); }), '#ff9900', 2, true);

var lCloud = leftPanel(523.3, 77.7,
    {min:0, max:8, ticks:[0,2,4,6,8], fmt:numFmt},
    {min:0, max:1, ticks:[0,.25,.5,.75,1], fmt:numFmt, color:VISCOL},
    {bg:BLUEBG, xLabels:leftUtcTicks, xFmt:function(h){ return pad(h % 24); }});
rectS(lCloud, [[nightLeft[0][0], nightLeft[0][1], 0, 8]], 'rgba(0,40,120,0.08)', 1);
areaS(lCloud, leftHours, leftCloudHigh, '#ffffff', 2);
areaS(lCloud, leftHours, leftCloudMid, '#8c8c8c', 2);
areaS(lCloud, leftHours, leftCloudLow, '#585858', 2);
areaS(lCloud, leftHours, leftCloudVeryLow, '#3a3a3a', 2);
fogS(lCloud, leftFogHours, leftFog);
lineS(lCloud, leftHours, leftCloudHigh, '#ffffff', 1);

// ---- text and leader lines ----
var gfx = [];
function txt(s, x, y, color, size, align, extra){
    var o = {type:'text', z:20, silent:true, x:x, y:y,
        style:{text:s, x:0, y:0, fill:color || '#000', font:(size || 10.5) + 'px ' + FONT,
            align:align || 'left', verticalAlign:'middle'}};
    if (extra) for (var k in extra) o[k] = extra[k];
    gfx.push(o);
}
function vert(s, x, y, size){
    txt(s, x, y, NAVY, size || 13, 'center', {rotation:Math.PI/2});
}
function leader(points, color){
    gfx.push({type:'polyline', z:19, silent:true, shape:{points:points}, style:{stroke:color, lineWidth:1, fill:'none'}});
}

// faint logo behind the panels
var logoStyle = {stroke:'rgba(0,0,0,0.045)', fill:'none'};
gfx.push({type:'bezierCurve', z:8, silent:true, shape:{x1:470, y1:138, cpx1:545, cpy1:150, cpx2:550, cpy2:235, x2:500, y2:300},
    style:{stroke:logoStyle.stroke, fill:'none', lineWidth:17}});
gfx.push({type:'line', z:8, silent:true, shape:{x1:500, y1:300, x2:468, y2:322},
    style:{stroke:logoStyle.stroke, lineWidth:17}});
gfx.push({type:'bezierCurve', z:8, silent:true, shape:{x1:372, y1:228, cpx1:372, cpy1:272, cpx2:412, cpy2:302, x2:468, y2:306},
    style:{stroke:logoStyle.stroke, fill:'none', lineWidth:14}});
gfx.push({type:'circle', z:8, silent:true, shape:{cx:479, cy:208, r:12}, style:{fill:'rgba(0,0,0,0.045)'}});

var headFont = 12.3;
txt('wschód słońca: 06:40 CET', 290, 8, NAVY, headFont);
txt('zachód słońca: 15:53 CET', 290, 21, NAVY, headFont);
txt('21°43\'31"E, 53°59\'46"N', 596, 8, NAVY, headFont, 'center');
txt('(x=261,  y=355)', 596, 21, NAVY, headFont, 'center');
txt('wysokość (min, środek, max)', 818, 8, NAVY, headFont, 'center');
txt('121 - 141 - 157 m', 818, 21, NAVY, headFont, 'center');

txt('wto, 04.11', 418, 37, '#000', 12.3, 'center');
txt('śro, 05.11', 572, 37, '#000', 12.3, 'center');
txt('czw, 06.11', 727, 37, '#000', 12.3, 'center');
txt('CET', 318, 50, '#000', 13, 'center');
txt('CET', 872, 50, '#000', 13, 'center');
txt('UTC', 318, 612, '#000', 13, 'center');
txt('UTC', 872, 612, '#000', 13, 'center');
txt('04.11', 418, 625, '#000', 12.3, 'center');
txt('05.11', 572, 625, '#000', 12.3, 'center');
txt('06.11', 727, 625, '#000', 12.3, 'center');
txt('meteo@icm.edu.pl', 310, 648, NAVY, 12.5);
txt('© 2007-2025 ICM, Uniwersytet Warszawski', 624, 648, NAVY, 12.8);

// axis titles of the main column
vert('temperatura', 290, 96); vert('(°C)', 304, 97);
vert('opad', 290, 181); vert('(mm/h, kg/m²/h)', 304, 185, 12);
vert('ciśnienie', 290, 270); vert('(hPa)', 304, 270);
vert('wiatr', 290, 361); vert('(m/s)', 304, 359);
vert('pion. rozciągł. chm.', 289, 476, 12); vert('(km)', 304, 466);
vert('zachmurzenie', 290, 572); vert('(oktanty)', 304, 559);
vert('temperatura', 901, 96); vert('(°C)', 885, 96);
vert('wilgotność wzgl.', 901, 187, 12.5); vert('(%)', 885, 188);
vert('ciśnienie', 901, 272); vert('(mm Hg)', 885, 273);
vert('wiatr', 901, 360); vert('(km/h)', 885, 361);
vert('widzialność', 901, 475); vert('(km)', 885, 474);
vert('mgła', 901, 562); vert('(frakcja)', 885, 562);

// compass roses
[[298,416],[897,416]].forEach(function(c){
    txt('N', c[0]+1, c[1]-8, NAVY, 13.5, 'center');
    txt('S', c[0], c[1]+8, NAVY, 13.5, 'center');
    txt('W', c[0]-10, c[1]-1, NAVY, 13.5, 'center');
    txt('E', c[0]+7, c[1]-1, NAVY, 13.5, 'center', {rotation:Math.PI/2});
});

var notes = [
    ['Czas lokalny',6,15,'#000'],['(CET/CEST)',6,26,'#000'],
    ['Temperatura gruntu',6,42,'#a03030'],['max/min',27,52,'#a03030'],
    ['Temperatura:',6,64,'#000'],['punkt środkowy',13,76,'#ff0000'],['max/min',27,86,'#ffdcd0'],
    ['odczuwana',10,98,'#0000ff'],['max/min',27,108,'#b0e0ff'],['Temp. punktu rosy',6,120,'#6a5acd'],
    ['Opad powyżej skali',6,137,'#ff0000'],['Wilgotność względna',6,151,'#e04000'],
    ['Wystąpienie burzy',6,165,'#000'],['Deszcz: max',6,179,'#00a000'],['średni',49,190,'#00a000'],
    ['Śnieg:',6,201,'#1038c8'],['max',49,201,'#1038c8'],['średni',49,212,'#1038c8'],
    ['Wystąpienie opadu',6,224,'#ff0000'],['konwekcyjnego',6,237,'#ff0000'],
    ['Ciśnienie',5,263,'#000'],['zredukowane',5,276,'#000'],['do poziomu morza',5,289,'#000'],
    ['Wiatr na 10m:',5,318,'#000'],['poryw powyżej skali',10,334,'#ff0000'],['max porywy wiatru',10,348,'#ff0000'],
    ['prędkość wiatru',10,368,NAVY],['w środku obszaru',10,381,NAVY],['kierunek wiatru',10,409,NAVY],
    ['Wierzchołek chmur',6,429,'#a03030'],['Podstawa chmur*',6,444,'#000'],['o pokryciu',6,455,'#000'],
    ['> 7.9 okt.',10,468,'#000'],['> 6.5 okt.',10,479,'#505050'],['> 4.5 okt.',10,490,'#909090'],
    ['> 2.5 okt.',10,500,'#d8d8d8'],
    ['Widzialność',6,526,'#ff8000'],['Chmury:',6,543,'#000'],
    ['średnie',10,569,'#909090'],['niskie',10,581,'#505050'],['bardzo niskie',10,593,'#303030'],
    ['Mgła',6,605,'#ffb000'],['Czas uniwersalny (UTC)',6,622,'#000']
];
gfx.push({type:'rect', z:18, silent:true, shape:{x:11, y:505, width:44, height:12}, style:{fill:'#80c8ff'}});
gfx.push({type:'rect', z:18, silent:true, shape:{x:10, y:551, width:41, height:12}, style:{fill:'#80c8ff'}});
notes.forEach(function(n){ txt(n[0], n[1], n[2], n[3], 11); });
txt('> 0.1 okt.', 11, 511, '#fff', 11);
txt('wysokie', 11, 557, '#fff', 11);
txt('* powyżej poziomu morza', 5, 648, '#000', 9);

var links = [
    [[[66,16],[133,16],[157,46]],'#000'],
    [[[102,43],[120,43],[157,103]],'#a03030'],
    [[[92,76],[115,76]],'#ff0000'],[[[130,76],[135,78],[157,100]],'#ff0000'],
    [[[70,99],[115,99]],'#0000ff'],[[[130,99],[147,106]],'#0000ff'],
    [[[95,120],[115,120]],'#6a5acd'],[[[128,120],[142,113]],'#6a5acd'],
    [[[102,137],[137,137],[147,147]],'#ff0000'],
    [[[106,151],[112,151]],'#e04000'],[[[130,151],[147,163]],'#e04000'],
    [[[100,166],[113,166]],'#000'],[[[130,166],[139,172]],'#000'],
    [[[71,179],[139,179],[139,187]],'#00a000'],[[[80,190],[147,190]],'#00a000'],
    [[[70,201],[112,201]],'#1038c8'],[[[128,201],[160,172]],'#1038c8'],
    [[[82,212],[128,212],[160,180]],'#1038c8'],
    [[[97,225],[140,225],[147,220]],'#ff0000'],
    [[[52,264],[130,264],[135,262]],'#000'],
    [[[112,334],[118,334]],'#ff0000'],[[[129,335],[138,317]],'#ff0000'],
    [[[107,348],[130,348],[148,340]],'#ff0000'],
    [[[92,367],[135,367]],NAVY],[[[86,410],[140,410]],NAVY],
    [[[100,431],[133,431],[183,447]],'#a03030'],
    [[[57,468],[128,468],[192,456]],'#000'],
    [[[57,480],[143,480]],'#505050'],
    [[[57,491],[132,491],[143,500]],'#909090'],
    [[[55,501],[132,501],[137,505]],'#d0d0d0'],
    [[[55,509],[137,509]],'#80c8ff'],[[[55,512],[137,512]],'#80c8ff'],
    [[[67,527],[128,527],[172,467]],'#ff9000'],
    [[[51,556],[185,556]],'#80c8ff'],[[[51,558],[185,558]],'#ffffff'],
    [[[50,572],[192,572]],'#909090'],
    [[[38,582],[120,582]],'#303030'],[[[132,582],[143,582]],'#303030'],
    [[[74,594],[147,594]],'#303030'],
    [[[27,605],[218,605],[218,598]],'#ffb000'],
    [[[138,623],[148,623],[157,610]],'#000']
];
links.forEach(function(l){ leader(l[0], l[1]); });

var chart = echarts.init(document.getElementById('chart'), null, {renderer:'canvas'});
chart.setOption({
    animation:false,
    backgroundColor:'#fff',
    tooltip:{show:false},
    grid:grids,
    xAxis:xAxes,
    yAxis:yAxes,
    series:series,
    graphic:{elements:gfx}
});
</script>
</body>
</html>
